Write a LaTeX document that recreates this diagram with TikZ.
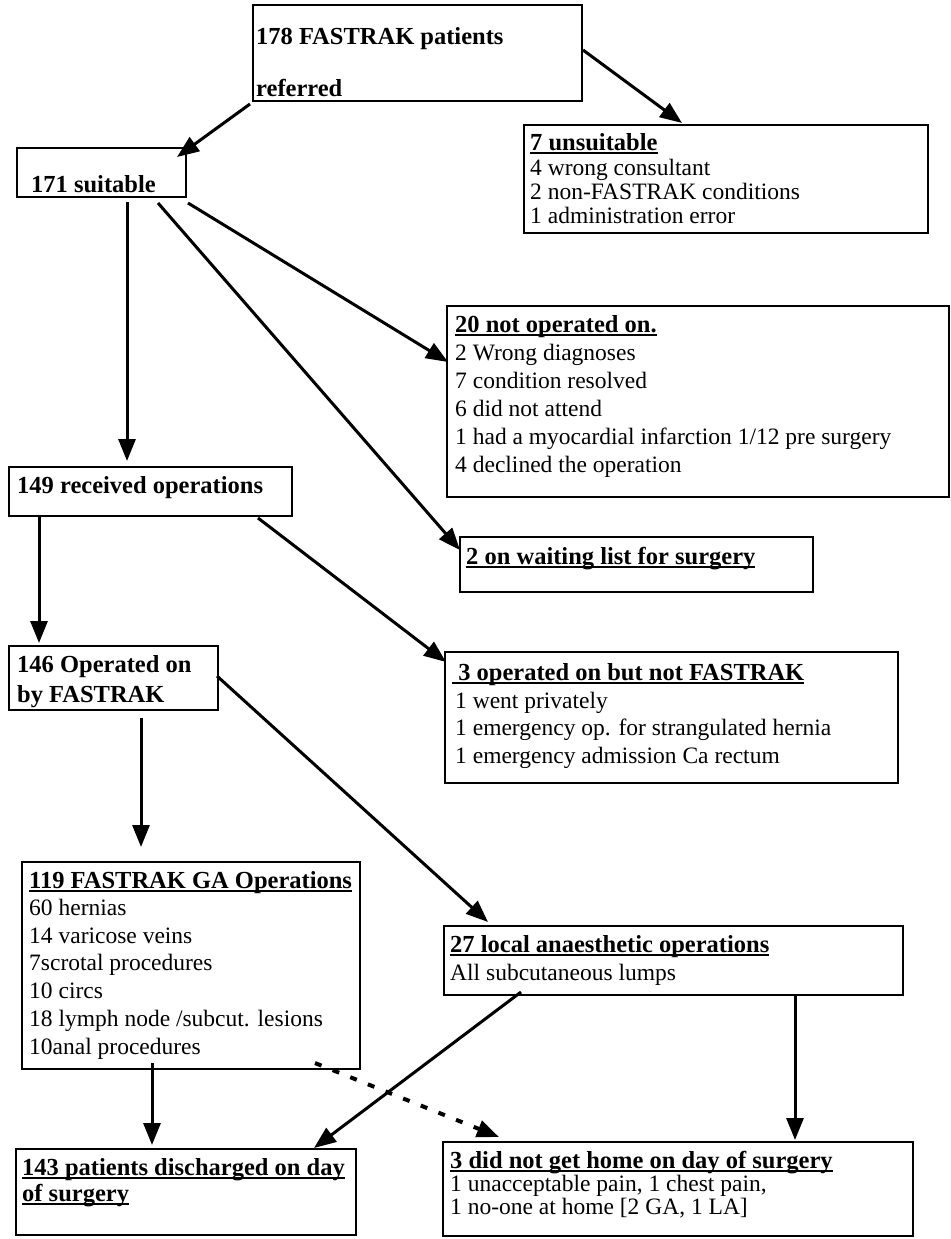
\documentclass[tikz,border=0pt]{standalone}
\usepackage{fontspec}
\setmainfont{Liberation Serif}
\usetikzlibrary{arrows.meta,calc}
\newsavebox\ulbox
\newcommand\myul[1]{\sbox\ulbox{#1}\rlap{\rule[-3.5pt]{\wd\ulbox}{1.6pt}}\usebox\ulbox}
\begin{document}
\begin{tikzpicture}[x=1pt,y=-1pt,
  box/.style={draw, line width=1.8pt, inner sep=0pt, outer sep=0pt, anchor=north west},
  txt/.style={anchor=base west, inner sep=0pt, font=\fontsize{23.5}{25}\selectfont},
  btxt/.style={anchor=base west, inner sep=0pt, font=\fontsize{24.5}{26}\selectfont\bfseries},
  arr/.style={line width=3pt, -{Triangle[length=22pt,width=17pt]}},
  darr/.style={line width=4pt, dash pattern=on 7pt off 12pt, -{Triangle[length=22pt,width=17pt]}}
]
\useasboundingbox (0,0) rectangle (950,1239);
% boxes
\node[box, minimum width=329pt, minimum height=96pt]  (A) at (253,5) {};
\node[box, minimum width=404pt, minimum height=108pt] (B) at (524,125) {};
\node[box, minimum width=169pt, minimum height=49pt]  (C) at (17,148) {};
\node[box, minimum width=502pt, minimum height=191pt] (D) at (447,306) {};
\node[box, minimum width=283pt, minimum height=49pt]  (E) at (9,467) {};
\node[box, minimum width=353pt, minimum height=55pt]  (F) at (460,537) {};
\node[box, minimum width=209pt, minimum height=64pt]  (G) at (9,646) {};
\node[box, minimum width=453pt, minimum height=131pt] (H) at (445,652) {};
\node[box, minimum width=338pt, minimum height=207pt] (I) at (22,862) {};
\node[box, minimum width=459pt, minimum height=69pt]  (J) at (444,926) {};
\node[box, minimum width=340pt, minimum height=86pt]  (K) at (16,1149) {};
\node[box, minimum width=470pt, minimum height=94pt]  (L) at (443,1142) {};
% texts
\node[btxt] (a1) at (256,45) {178 FASTRAK patients};
\node[btxt] (a2) at (256,96) {referred};
\node[btxt] (b1) at (530,150) {\myul{7 unsuitable}};
\node[txt]  (b2) at (530,175) {4 wrong consultant};
\node[txt]  (b3) at (530,199) {2 non-FASTRAK conditions};
\node[txt]  (b4) at (530,223) {1 administration error};
\node[btxt] (c1) at (31,192) {171 suitable};
\node[btxt] (d1) at (455,332) {\myul{20 not operated on.}};
\node[txt]  (d2) at (455,360) {2 Wrong diagnoses};
\node[txt]  (d3) at (455,388) {7 condition resolved};
\node[txt]  (d4) at (455,416) {6 did not attend};
\node[txt]  (d5) at (455,444) {1 had a myocardial infarction 1/12 pre surgery};
\node[txt]  (d6) at (455,472) {4 declined the operation};
\node[btxt] (e1) at (17,493) {149 received operations};
\node[btxt] (f1) at (466,564) {\myul{2 on waiting list for surgery}};
\node[btxt] (g1) at (17,672) {146 Operated on};
\node[btxt] (g2) at (17,702) {by FASTRAK};
\node[btxt] (h1) at (452,680) {\myul{\ 3 operated on but not FASTRAK}};
\node[txt]  (h2) at (455,708) {1 went privately};
\node[txt]  (h3) at (455,735) {1 emergency op. for strangulated hernia};
\node[txt]  (h4) at (455,763) {1 emergency admission Ca rectum};
\node[btxt] (i1) at (29,888) {\myul{119 FASTRAK GA Operations}};
\node[txt]  (i2) at (29,915) {60 hernias};
\node[txt]  (i3) at (29,943) {14 varicose veins};
\node[txt]  (i4) at (29,970) {7scrotal procedures};
\node[txt]  (i5) at (29,998) {10 circs};
\node[txt]  (i6) at (29,1026) {18 lymph node /subcut. lesions};
\node[txt]  (i7) at (29,1054) {10anal procedures};
\node[btxt] (j1) at (450,952) {\myul{27 local anaesthetic operations}};
\node[txt]  (j2) at (450,980) {All subcutaneous lumps};
\node[btxt] (k1) at (22,1175) {\myul{143 patients discharged on day}};
\node[btxt] (k2) at (22,1201) {\myul{of surgery}};
\node[btxt] (l1) at (450,1168) {\myul{3 did not get home on day of surgery}};
\node[txt]  (l2) at (450,1191) {1 unacceptable pain, 1 chest pain,};
\node[txt]  (l3) at (450,1214) {1 no-one at home [2 GA, 1 LA]};
% connectors
\draw[arr] ($(A.south west)+(-3,3)$) -- ($(C.north east)+(-9,9)$);
\draw[arr] ($(A.east)+(1,-3)$) -- ($(B.north west)+(158,-2)$);
\draw[arr] ($(C.south west)+(110,5)$) -- ($(E.north west)+(118,-6)$);
\draw[arr] ($(C.south east)+(-28,6)$) -- ($(F.north west)+(0,13)$);
\draw[arr] ($(C.south east)+(2,6)$) -- ($(D.north west)+(1,56)$);
\draw[arr] ($(E.south west)+(30,0)$) -- ($(G.north west)+(30,-3)$);
\draw[arr] ($(E.south east)+(-34,2)$) -- ($(H.north west)+(1,10)$);
\draw[arr] ($(G.south west)+(132,8)$) -- ($(I.north west)+(119,-15)$);
\draw[arr] ($(G.north east)+(-1,30)$) -- ($(J.north west)+(44,-4)$);
\draw[arr] ($(I.south west)+(130,-6)$) -- ($(K.north west)+(136,-4)$);
\draw[arr] ($(J.south west)+(77,-3)$) -- ($(K.north east)+(-42,-1)$);
\draw[arr] ($(J.south west)+(351,0)$) -- ($(L.north west)+(352,-2)$);
\draw[darr] ($(I.south east)+(-45,-6)$) -- ($(L.north west)+(56,-5)$);
\end{tikzpicture}
\end{document}
